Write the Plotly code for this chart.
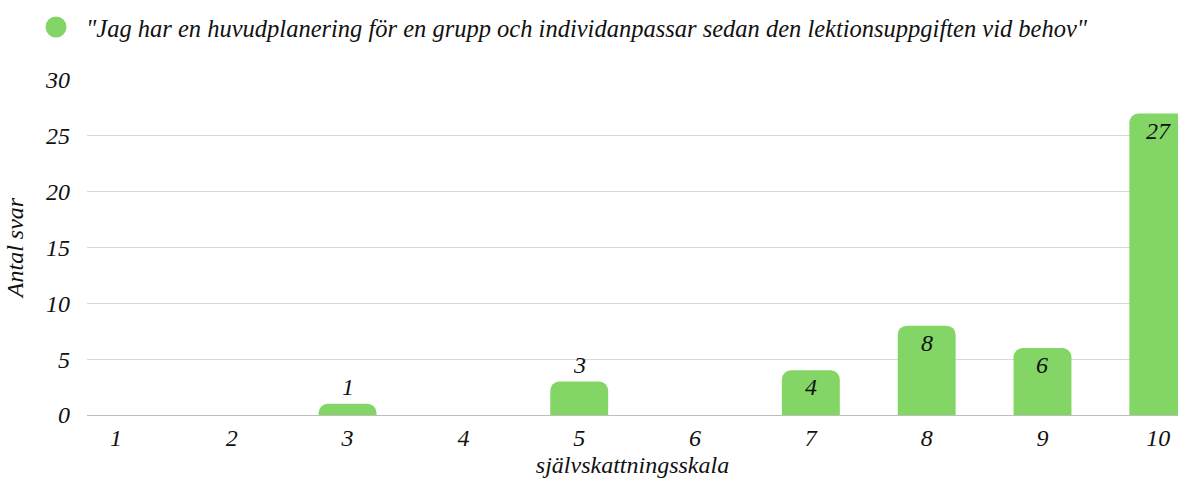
import plotly.graph_objects as go

SERIES_NAME = '"Jag har en huvudplanering för en grupp och individanpassar sedan den lektionsuppgiften vid behov"'
scale = [1, 2, 3, 4, 5, 6, 7, 8, 9, 10]
answers = [0, 0, 1, 0, 3, 0, 4, 8, 6, 27]

GREEN = "#83d665"
SERIF = "Liberation Serif, Times New Roman, serif"
FONT = dict(family=SERIF, size=24, color="#111111", style="italic")

fig = go.Figure()
fig.add_bar(
    x=scale,
    y=answers,
    width=0.5,
    marker=dict(color=GREEN, line=dict(width=0)),
    showlegend=False,
)
# legend entry drawn as a circle
fig.add_scatter(
    x=[None],
    y=[None],
    mode="markers",
    marker=dict(color=GREEN, size=16, symbol="circle", line=dict(color=GREEN, width=5)),
    name=SERIES_NAME,
)

# value labels: above short bars, inside the top of taller ones
for s, v in zip(scale, answers):
    if not v:
        continue
    inside = v >= 4
    fig.add_annotation(
        x=s,
        y=v,
        text=str(v),
        showarrow=False,
        font=FONT,
        yanchor="top" if inside else "bottom",
        yshift=-2 if inside else 2,
    )

fig.update_layout(
    width=1178,
    height=482,
    margin=dict(l=87, r=0, t=80, b=67, autoexpand=False),
    paper_bgcolor="white",
    plot_bgcolor="white",
    barcornerradius=9,
    font=FONT,
    legend=dict(
        orientation="h",
        x=-0.0559,
        xanchor="left",
        y=1.158,
        yanchor="middle",
        xref="paper",
        yref="paper",
        font=dict(family=SERIF, size=24.5, color="#111111", style="italic"),
        itemsizing="trace",
        itemwidth=50,
        bgcolor="rgba(0,0,0,0)",
    ),
    xaxis=dict(
        range=[0.75, 10.17],
        tickmode="array",
        tickvals=scale,
        ticktext=[str(s) for s in scale],
        showgrid=False,
        zeroline=False,
        showline=False,
        ticks="",
        automargin=False,
        tickfont=FONT,
        ticklabelstandoff=6,
        title=dict(text="självskattningsskala", font=FONT, standoff=6),
    ),
    yaxis=dict(
        range=[0, 30],
        dtick=5,
        showgrid=True,
        gridcolor="#d9d9d9",
        gridwidth=1,
        zeroline=True,
        zerolinecolor="#bdbdbd",
        zerolinewidth=1,
        tickfont=FONT,
        ticks="",
        automargin=False,
        ticklabelstandoff=16,
        title=dict(text="Antal svar", font=FONT, standoff=14),
    ),
)

# drop the default page margin so the figure fills the window exactly
fig.write_html(
    "out.html",
    config={"displayModeBar": False},
    post_script="document.body.style.margin = '0';",
)
